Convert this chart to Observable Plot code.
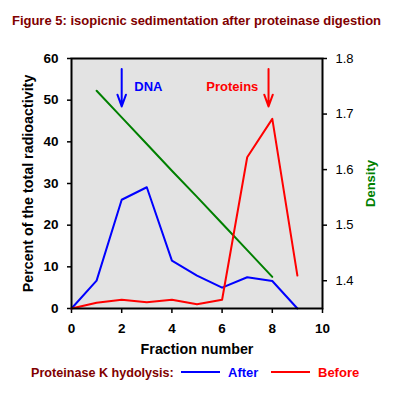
<!DOCTYPE html>
<html><head><meta charset="utf-8">
<script src="https://cdn.jsdelivr.net/npm/d3@7"></script>
<script src="https://cdn.jsdelivr.net/npm/@observablehq/plot@0.6"></script>
<style>
body{margin:0;background:#fff;font-family:"Liberation Sans",Arial,sans-serif;}
#wrap{position:relative;width:393px;height:397px;overflow:hidden;}
#title{position:absolute;left:0;top:12px;width:393px;text-align:center;font-weight:bold;font-size:13px;color:#800000;line-height:18px;}
#chart{position:absolute;left:0;top:40px;}
.lg{position:absolute;font-weight:bold;font-size:13px;line-height:16px;top:365px;}
.sw{position:absolute;height:2px;top:371px;}
</style></head>
<body><div id="wrap">
<div id="title">Figure 5: isopicnic sedimentation after proteinase digestion</div>
<div id="chart"></div>
<div class="lg" style="left:31px;color:#800000;font-size:12.6px">Proteinase K hydolysis:</div>
<div class="sw" style="left:181px;width:39px;background:#0000ff"></div>
<div class="lg" style="left:228px;color:#0000ff">After</div>
<div class="sw" style="left:271px;width:39px;background:#ff0000"></div>
<div class="lg" style="left:318px;color:#ff0000">Before</div>
</div>
<script>
const fractions = [0, 1, 2, 3, 4, 5, 6, 7, 8, 9];
const after = [0, 6.7, 26.1, 29.1, 11.5, 7.9, 5.0, 7.5, 6.6, 0];
const before = [0, 1.4, 2.1, 1.5, 2.1, 1.0, 2.1, 36.3, 45.5, 7.9];
const densFractions = [1, 2, 3, 4, 5, 6, 7, 8];
const density = [1.742, 1.694, 1.646, 1.598, 1.551, 1.503, 1.455, 1.407];
const xTicks = [0, 2, 4, 6, 8, 10];
const yTicks = [0, 10, 20, 30, 40, 50, 60];
const densTicks = [1.4, 1.5, 1.6, 1.7, 1.8];
const arrowX = [2, 7.85];
const arrowColor = ["#0000ff", "#ff0000"];
const labels = ["DNA", "Proteins"];
const labelX = [2.5, 5.37];

const dMin = 1.35, dMax = 1.8;
const toPct = d => (d - dMin) / (dMax - dMin) * 60;
const fromPct = p => dMin + p / 60 * (dMax - dMin);

const afterData = fractions.map((f, i) => ({f, v: after[i]}));
const beforeData = fractions.map((f, i) => ({f, v: before[i]}));
const densData = densFractions.map((f, i) => ({f, v: toPct(density[i])}));
const arrows = arrowX.map((x, i) => ({x, y1: 57.5, y2: 48.5, c: arrowColor[i]}));
const lab = labels.map((t, i) => ({t, x: labelX[i], y: 53.3, c: arrowColor[i]}));

const chart = Plot.plot({
  width: 393, height: 325,
  marginTop: 18, marginBottom: 57, marginLeft: 71, marginRight: 71,
  style: {fontFamily: "'Liberation Sans', Arial, sans-serif", fontSize: "13px", background: "transparent"},
  x: {domain: [0, 10]},
  y: {domain: [0, 60]},
  marks: [
    Plot.frame({fill: "#e3e3e3", stroke: null}),
    Plot.axisX(xTicks, {tickSize: 5, tickPadding: 10, fontWeight: "bold", fontSize: 13.5, label: null, stroke: "black", strokeWidth: 1.5}),
    Plot.axisY(yTicks, {anchor: "left", tickSize: 4, tickPadding: 9, fontWeight: "bold", fontSize: 13.5, label: null, strokeWidth: 1.5}),
    Plot.axisY(densTicks.map(toPct), {anchor: "right", tickSize: 4, tickPadding: 9, label: null, strokeWidth: 1.5,
      tickFormat: p => fromPct(p).toFixed(1)}),
    Plot.line(densData, {x: "f", y: "v", stroke: "#008000", strokeWidth: 2}),
    Plot.line(afterData, {x: "f", y: "v", stroke: "#0000ff", strokeWidth: 2}),
    Plot.line(beforeData, {x: "f", y: "v", stroke: "#ff0000", strokeWidth: 2}),
    Plot.arrow(arrows, {x1: "x", x2: "x", y1: "y1", y2: "y2", stroke: "c", strokeWidth: 2, headLength: 12, headAngle: 40}),
    Plot.text(lab, {x: "x", y: "y", text: "t", fill: "c", textAnchor: "start", fontWeight: "bold", fontSize: 13}),
    Plot.frame({stroke: "black", strokeWidth: 2}),
    Plot.text(["Fraction number"], {frameAnchor: "bottom", dy: 45, fontWeight: "bold", fontSize: 14.3}),
    Plot.text(["Percent of the total radioactivity"], {frameAnchor: "left", textAnchor: "middle", dx: -43, rotate: -90, fontWeight: "bold", fontSize: 14.3}),
    Plot.text(["Density"], {frameAnchor: "right", textAnchor: "middle", dx: 48, rotate: -90, fontWeight: "bold", fontSize: 13, fill: "#008000"})
  ]
});
document.getElementById("chart").appendChild(chart);
</script>
</body></html>
